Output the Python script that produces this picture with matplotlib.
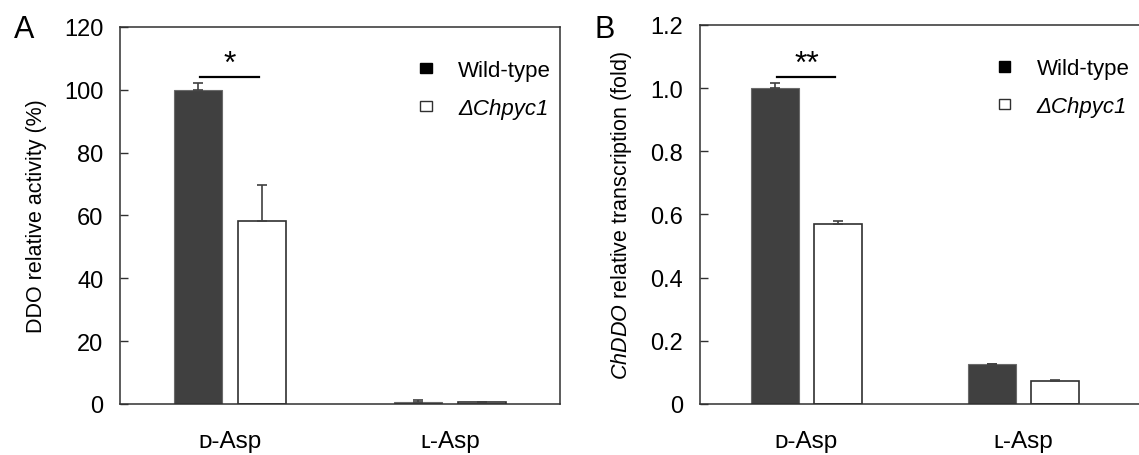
import matplotlib
matplotlib.use("Agg")
import matplotlib.pyplot as plt
import numpy as np
from matplotlib.patches import Patch

plt.rcParams['font.family'] = ['Liberation Sans', 'DejaVu Sans']
plt.rcParams['mathtext.fontset'] = 'custom'
plt.rcParams['mathtext.it'] = 'Liberation Sans:italic'
plt.rcParams['mathtext.rm'] = 'Liberation Sans'

categories = ["\u1d05-Asp", "\u029f-Asp"]
series = ["Wild-type", "\u0394Chpyc1"]

activity_wt = [100.0, 0.6]
activity_wt_err = [2.3, 0.5]
activity_mut = [58.3, 0.5]
activity_mut_err = [11.4, 0.1]

transcr_wt = [1.0, 0.125]
transcr_wt_err = [0.015, 0.003]
transcr_mut = [0.57, 0.072]
transcr_mut_err = [0.01, 0.004]

DARK = "#404040"
W = 0.22
OFF = 0.145


def draw_panel(ax, wt, wt_err, mut, mut_err, ymax, yticks, yticklabels, ylabel,
               star, star_y, xlim):
    x = np.arange(len(categories))
    zeros = np.zeros(len(categories))
    ekw = dict(ecolor=DARK, elinewidth=1.2, capsize=3.5, capthick=1.2)
    ax.bar(x - OFF, wt, W, color=DARK, edgecolor="#6a6a6a", linewidth=0.8,
           yerr=[zeros, wt_err], error_kw=ekw, zorder=2)
    ax.bar(x + OFF, mut, W, color="white", edgecolor="#303030", linewidth=1.2,
           yerr=[zeros, mut_err], error_kw=ekw, zorder=2)
    ax.set_ylim(0, ymax)
    ax.set_xlim(*xlim)
    ax.set_yticks(yticks)
    ax.set_yticklabels(yticklabels)
    ax.set_xticks(x)
    ax.set_xticklabels(categories)
    ax.tick_params(axis="y", direction="in", length=6, width=1, labelsize=17,
                   pad=12, color="#303030")
    ax.tick_params(axis="x", length=0, labelsize=17.5, pad=19)
    ax.set_ylabel(ylabel, fontsize=15.5, labelpad=12)
    for s in ax.spines.values():
        s.set_linewidth(1.1)
        s.set_color("#303030")
    # significance
    ax.plot([-OFF + 0.01, OFF - 0.015], [star_y, star_y], color="black", lw=1.6,
            zorder=3, clip_on=False)
    ax.text(0.0, star_y * 0.995, star, ha="center", va="bottom", fontsize=23)
    handles = [Patch(facecolor="black", edgecolor="black"),
               Patch(facecolor="white", edgecolor="#303030")]
    return handles


fig = plt.figure(figsize=(11.39, 4.56), dpi=100)
axA = fig.add_axes([0.1054, 0.112, 0.3863, 0.8266])
axB = fig.add_axes([0.6146, 0.112, 0.3870, 0.8310])

hA = draw_panel(axA, activity_wt, activity_wt_err, activity_mut,
                activity_mut_err, 120, [0, 20, 40, 60, 80, 100, 120],
                ["0", "20", "40", "60", "80", "100", "120"],
                "DDO relative activity (%)", "*", 104, (-0.5, 1.5))
hB = draw_panel(axB, transcr_wt, transcr_wt_err, transcr_mut,
                transcr_mut_err, 1.2, [0, 0.2, 0.4, 0.6, 0.8, 1.0, 1.2],
                ["0", "0.2", "0.4", "0.6", "0.8", "1.0", "1.2"],
                "$\\it{ChDDO}$ relative transcription (fold)", "**", 1.035,
                (-0.49, 1.54))

for ax, h, anchor in [(axA, hA, (1.025, 0.965)), (axB, hB, (1.02, 0.965))]:
    leg = ax.legend(h, series, loc="upper right", bbox_to_anchor=anchor,
                    frameon=False, fontsize=16, handlelength=0.5,
                    handleheight=0.35, handletextpad=1.2, labelspacing=0.75)
    leg.get_texts()[1].set_fontstyle("italic")

fig.text(0.012, 0.935, "A", fontsize=22, va="center")
fig.text(0.522, 0.935, "B", fontsize=22, va="center")

fig.savefig("out.png", dpi=100)
